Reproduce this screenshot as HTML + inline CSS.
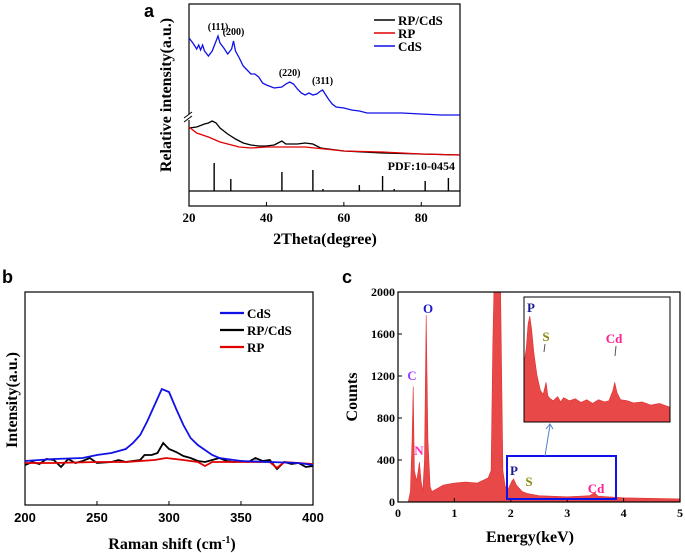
<!DOCTYPE html>
<html><head><meta charset="utf-8">
<style>
body{margin:0;background:#fff;}
svg{display:block;font-family:"Liberation Serif",serif;}
.s{font-family:"Liberation Sans",sans-serif;font-weight:bold;}
</style></head>
<body>
<svg id="fig" width="685" height="553" viewBox="0 0 685 553" xmlns="http://www.w3.org/2000/svg">
<g id="pa"></g>
<g id="pb"></g>
<g id="pc"></g>
</svg>
<script>
// ---- Panel a data (XRD) ----
const xrdCdSX=[20,21,22,22.5,23,23.5,24,25,26,27,27.5,28,29,30,31,31.5,32,33,34,35,36,37,38,39,40,42,44,45,46,47,48,49,50,51,52,53,54,54.5,55,56,57,58,60,62,64,66,70,75,80,85,90];
const xrdCdSY=[153,148,142,146,141,146,140,135,140,150,155,148,143,137,142,150,140,133,125,121,117,117,114,108,106,103,104,107,109,107,102,98,96,98,96,97,100,101,98,92,87,84,83,81,80,78,78,78,77,76,76];
const xrdRPCdSX=[20,22,24,25,26,27,28,30,32,34,36,38,40,42,43,44,45,48,50,52,54,56,60,70,80,90];
const xrdRPCdSY=[63,64,67,68,70,68,63,57,52,48,46,45,45,46,48,50,47,47,48,47,43,42,40,38,37,36];
const xrdRPX=[20,22,25,28,30,33,36,40,45,50,55,60,70,80,90];
const xrdRPY=[64,58,54,49,47,44,43,44,44,44,42,40,39,37,36];
const pdfPos=[26.5,30.8,44,52,54.6,64,70,73,81,87];
const pdfInt=[28,12,19,21,2,6,15,2,10,13];
const xrdTicks=[20,40,60,80];
const peakLabels=["(111)","(200)","(220)","(311)"];
const peakPos=[27.5,31.5,46,54.5];
const peakVal=[155,150,109,101];

// ---- Panel b data (Raman) ----
const ramCdSX=[200,220,240,250,260,270,275,280,285,290,295,300,305,310,315,320,325,330,335,340,350,370,390,400];
const ramCdSY=[44,46,47,50,52,56,62,70,84,100,116,113,96,80,67,60,55,50,47,46,44,43,42,40];
const ramRPCdSX=[200,205,210,215,220,225,230,235,240,245,250,260,265,270,280,283,288,292,296,300,305,310,315,320,325,330,335,340,345,350,355,360,365,370,375,380,385,390,395,400];
const ramRPCdSY=[40,43,41,46,45,38,46,42,44,47,42,43,45,43,45,50,50,52,62,56,53,49,47,44,43,45,47,44,43,44,43,47,44,45,36,43,41,42,38,39];
const ramRPX=[200,220,250,270,290,298,310,320,325,330,350,370,375,380,390,400];
const ramRPY=[42,42,43,43,45,47,45,43,39,43,43,43,37,43,42,41];
const ramTicks=[200,250,300,350,400];

// ---- Panel c data (EDS) ----
const edsE=[0,0.18,0.22,0.25,0.27,0.29,0.33,0.36,0.38,0.41,0.44,0.47,0.5,0.53,0.57,0.6,0.7,0.8,1.0,1.2,1.4,1.6,1.65,1.68,1.7,1.82,1.86,1.9,1.95,2.02,2.05,2.1,2.2,2.3,2.5,3.0,3.4,3.48,3.55,4,5];
const edsC=[0,0,100,600,1100,300,200,300,380,200,100,400,1780,600,150,100,130,160,180,190,180,230,300,1500,2000,2000,300,150,120,200,220,160,100,80,60,50,60,90,55,40,30];
const insetE=[1.92,1.96,1.99,2.02,2.05,2.09,2.14,2.2,2.25,2.3,2.33,2.36,2.42,2.5,2.55,2.6,2.7,2.8,2.9,3.0,3.1,3.2,3.3,3.38,3.45,3.48,3.52,3.58,3.7,3.8,3.95,4.1,4.25,4.43];
const insetC=[130,160,205,220,195,150,110,80,72,95,70,65,60,68,58,66,60,64,57,62,55,62,58,60,80,95,75,62,60,56,58,52,55,48];
const edsYTicks=[0,400,800,1200,1600,2000];
const edsXTicks=[0,1,2,3,4,5];

const NS="http://www.w3.org/2000/svg";
function mk(parent,tag,attrs,text){const e=document.createElementNS(NS,tag);for(const k in attrs)e.setAttribute(k,attrs[k]);if(text!==undefined)e.textContent=text;parent.appendChild(e);return e;}
function pts(xs,ys,fx,fy){return xs.map((x,i)=>fx(x).toFixed(1)+","+fy(ys[i]).toFixed(1)).join(" ");}

// ===== Panel A =====
(function(){
const g=document.getElementById('pa');
const L=189,R=460,T=4,B=206,base=191;
const X=v=>L+(v-20)/70*(R-L);
const Y=v=>base-v;
let t;
t=mk(g,'text',{x:144,y:17,'font-size':18,class:'s'},'a');


let r=mk(g,'rect',{x:L,y:T,width:R-L,height:B-T,fill:'none',stroke:'#000','stroke-width':1.2});


mk(g,'line',{x1:L,y1:base,x2:R,y2:base,stroke:'#000','stroke-width':1.2});
pdfPos.forEach((p,i)=>{const l=mk(g,'line',{x1:X(p),x2:X(p),y1:base,y2:base-pdfInt[i],stroke:'#000','stroke-width':1.4});

});
xrdTicks.forEach(v=>{mk(g,'line',{x1:X(v),x2:X(v),y1:B,y2:B-4,stroke:'#000'});
const tt=mk(g,'text',{x:X(v),y:222,'font-size':13,'text-anchor':'middle','font-weight':'bold'},String(v));

});
const series=[[xrdRPCdSX,xrdRPCdSY,'#000','xrd-rp-cds-line'],[xrdRPX,xrdRPY,'#e00000','xrd-rp-line'],[xrdCdSX,xrdCdSY,'#1010e8','xrd-cds-line']];
series.forEach(s=>{const p=mk(g,'polyline',{points:pts(s[0],s[1],X,Y),fill:'none',stroke:s[2],'stroke-width':1.3});

});
peakLabels.forEach((lb,i)=>{const tt=mk(g,'text',{x:X(peakPos[i]),y:Y(peakVal[i])-6,'font-size':10,'text-anchor':'middle','font-weight':'bold'},lb);

});
mk(g,'rect',{x:L-4,y:114,width:8,height:6,fill:'#fff'});
mk(g,'line',{x1:L-5,y1:118,x2:L+3,y2:112,stroke:'#000'});
mk(g,'line',{x1:L-5,y1:122,x2:L+3,y2:116,stroke:'#000'});
t=mk(g,'text',{x:455,y:170,'font-size':12,'text-anchor':'end','font-weight':'bold'},'PDF:10-0454');


const leg=[['RP/CdS','#000',20],['RP','#e00000',33],['CdS','#1010e8',46]];
leg.forEach(e=>{const gg=mk(g,'g',{});


mk(gg,'line',{x1:374,x2:395,y1:e[2],y2:e[2],stroke:e[1],'stroke-width':1.6});
mk(gg,'text',{x:398,y:e[2]+5,'font-size':13,'font-weight':'bold'},e[0]);});
t=mk(g,'text',{x:325,y:244,'font-size':16,'text-anchor':'middle','font-weight':'bold'},'2Theta(degree)');


t=mk(g,'text',{x:0,y:0,'font-size':16,'text-anchor':'middle','font-weight':'bold',transform:'translate(171,95) rotate(-90)'},'Relative intensity(a.u.)');


})();

// ===== Panel B =====
(function(){
const g=document.getElementById('pb');
const L=25,R=313,T=292,B=505;
const X=v=>L+(v-200)/200*(R-L);
const Y=v=>B-v;
let t=mk(g,'text',{x:2,y:283,'font-size':18,class:'s'},'b');


let r=mk(g,'rect',{x:L,y:T,width:R-L,height:B-T,fill:'none',stroke:'#000','stroke-width':1.2});


ramTicks.forEach(v=>{mk(g,'line',{x1:X(v),x2:X(v),y1:B,y2:B-4,stroke:'#000'});
const tt=mk(g,'text',{x:X(v),y:522,'font-size':13,'text-anchor':'middle',class:'s'},String(v));

});
const series=[[ramRPCdSX,ramRPCdSY,'#000','raman-rp-cds-line'],[ramRPX,ramRPY,'#e00000','raman-rp-line'],[ramCdSX,ramCdSY,'#1010e8','raman-cds-line']];
series.forEach(s=>{const p=mk(g,'polyline',{points:pts(s[0],s[1],X,Y),fill:'none',stroke:s[2],'stroke-width':1.8});

});
const leg=[['CdS','#1010e8',313],['RP/CdS','#000',330],['RP','#e00000',347]];
leg.forEach(e=>{const gg=mk(g,'g',{});


mk(gg,'line',{x1:220,x2:244,y1:e[2],y2:e[2],stroke:e[1],'stroke-width':2.2});
mk(gg,'text',{x:247,y:e[2]+5,'font-size':13,'font-weight':'bold'},e[0]);});
t=mk(g,'text',{x:172,y:549,'font-size':16,'text-anchor':'middle','font-weight':'bold'},'Raman shift (cm');


mk(t,'tspan',{'font-size':10,dy:-6},'-1');
mk(t,'tspan',{dy:6},')');
t=mk(g,'text',{x:0,y:0,'font-size':16,'text-anchor':'middle','font-weight':'bold',transform:'translate(17,400) rotate(-90)'},'Intensity(a.u.)');


})();

// ===== Panel C =====
(function(){
const g=document.getElementById('pc');
const L=398,R=680,T=292,B=502;
const X=v=>L+v/5*(R-L);
const Y=v=>B-Math.min(v,2000)/2000*(B-T);
let t=mk(g,'text',{x:342,y:283,'font-size':18,class:'s'},'c');


const poly=pts(edsE,edsC,X,Y)+" "+X(5)+","+B+" "+X(0)+","+B;
let p=mk(g,'polygon',{points:poly,fill:'#e84848',stroke:'#e03030','stroke-width':0.6});


let r=mk(g,'rect',{x:L,y:T,width:R-L,height:B-T,fill:'none',stroke:'#000','stroke-width':1.2});


edsYTicks.forEach(v=>{mk(g,'line',{x1:L,x2:L+4,y1:Y(v),y2:Y(v),stroke:'#000'});
const tt=mk(g,'text',{x:L-3,y:Y(v)+4,'font-size':12,'text-anchor':'end','font-weight':'bold'},String(v));

});
edsXTicks.forEach(v=>{mk(g,'line',{x1:X(v),x2:X(v),y1:B,y2:B-4,stroke:'#000'});
const tt=mk(g,'text',{x:X(v),y:517,'font-size':12,'text-anchor':'middle','font-weight':'bold'},String(v));

});
const lbs=[['C',412,380,'#a040ff'],['O',428,313,'#1a1ad0'],['N',419,455,'#ff30c0'],['P',514,475,'#1a1a90'],['S',529,486,'#8a8a10'],['Cd',596,493,'#ff2090']];
lbs.forEach(l=>{const tt=mk(g,'text',{x:l[1],y:l[2],'font-size':13,'text-anchor':'middle','font-weight':'bold',fill:l[3]},l[0]);

});
r=mk(g,'rect',{x:507,y:456,width:109,height:43,fill:'none',stroke:'#1010e8','stroke-width':2});


mk(g,'line',{x1:545,y1:456,x2:550,y2:425,stroke:'#5080d0','stroke-width':1});
mk(g,'polyline',{points:'546,429 550,424 553,429',fill:'none',stroke:'#5080d0','stroke-width':1});
const IL=524,IR=670,IT=297,IB=422;
const IX=v=>IL+(v-1.92)/(4.43-1.92)*(IR-IL);
const IY=v=>IB-(v-20)*0.53;
mk(g,'rect',{x:IL,y:IT,width:IR-IL,height:IB-IT,fill:'#fff'});
p=mk(g,'polygon',{points:pts(insetE,insetC,IX,IY)+" "+IR+","+IB+" "+IL+","+IB,fill:'#e84848',stroke:'#e03030','stroke-width':0.6});


r=mk(g,'rect',{x:IL,y:IT,width:IR-IL,height:IB-IT,fill:'none',stroke:'#000','stroke-width':1});


const il=[['P',531,312,'#1a1a90'],['S',546,341,'#8a8a10'],['Cd',614,343,'#ff2090']];
il.forEach(l=>{const tt=mk(g,'text',{x:l[1],y:l[2],'font-size':13,'text-anchor':'middle','font-weight':'bold',fill:l[3]},l[0]);

});
mk(g,'line',{x1:545,y1:344,x2:544,y2:352,stroke:'#555'});
mk(g,'line',{x1:616,y1:346,x2:615,y2:356,stroke:'#555'});
t=mk(g,'text',{x:530,y:542,'font-size':16,'text-anchor':'middle','font-weight':'bold'},'Energy(keV)');


t=mk(g,'text',{x:0,y:0,'font-size':16,'text-anchor':'middle','font-weight':'bold',transform:'translate(357,397) rotate(-90)'},'Counts');


})();
</script>
</body></html>
